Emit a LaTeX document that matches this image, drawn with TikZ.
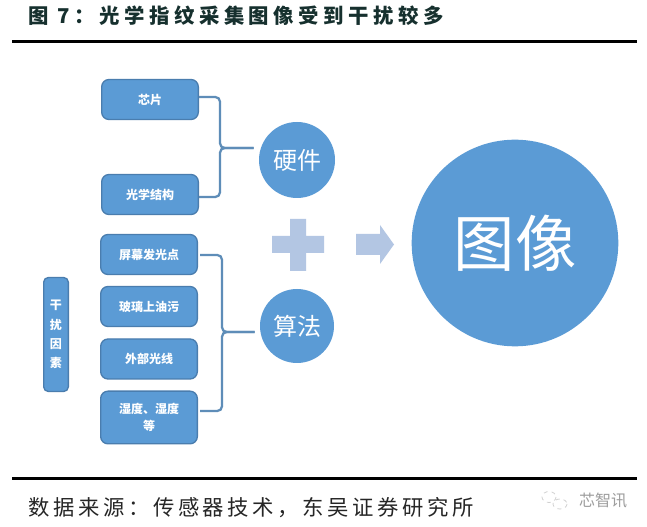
\documentclass[tikz,border=0pt]{standalone}
\usepackage{fontspec}
\setmainfont{Liberation Sans}
\newfontfamily\cjk{Noto Sans CJK SC}
\newfontfamily\cjktitle[LetterSpace=22]{Noto Sans CJK SC}
\newfontfamily\cjksrc[LetterSpace=17]{Noto Sans CJK SC}
\definecolor{boxfill}{HTML}{5B9BD5}
\definecolor{boxline}{HTML}{4A7DAE}
\definecolor{brace}{HTML}{5E8DB8}
\definecolor{pale}{HTML}{B3C6E3}
\definecolor{titlecol}{HTML}{16302E}
\tikzset{
  itembox/.style={draw=boxline,line width=1pt,fill=boxfill,rounded corners=5.5pt,minimum width=72.5pt,text=white,inner sep=0pt,align=center,font=\cjk\bfseries\fontsize{9}{13}\selectfont},
  ball/.style={circle,fill=boxfill,inner sep=0pt,text=white},
  bracketline/.style={draw=brace,line width=1.7pt,rounded corners=3.5pt,shorten >=3.75pt},
  paleshape/.style={fill=pale,draw=none},
  rulebar/.style={fill=black,draw=none}
}
\begin{document}
\begin{tikzpicture}[x=0.75pt,y=-0.75pt]
\useasboundingbox (0,0) rectangle (647,527);
\fill[white] (0,0) rectangle (647,527);
% title and rules
\node[anchor=west,inner sep=0pt,text=titlecol,font=\cjktitle\bfseries\fontsize{15.3}{17}\selectfont] (title) at (28,16) {图 7：光学指纹采集图像受到干扰较多};
\node[rulebar,anchor=north west,minimum width=468.75pt,minimum height=2.2pt,inner sep=0pt] (toprule) at (12,39.5) {};
\node[rulebar,anchor=north west,minimum width=468.75pt,minimum height=2.2pt,inner sep=0pt] (botrule) at (12,477) {};
\node[anchor=west,inner sep=0pt,text=black!85,font=\cjksrc\fontsize{16}{18}\selectfont] (source) at (28,508) {数据来源：传感器技术，东吴证券研究所};
% item boxes
\node[itembox,minimum height=30pt] (chip) at (150,99.5) {芯片};
\node[itembox,minimum height=30pt] (optic) at (150,194.5) {光学结构};
\node[itembox,minimum height=30pt] (screen) at (149,254.5) {屏幕发光点};
\node[itembox,minimum height=30pt] (glass) at (149,306.5) {玻璃上油污};
\node[itembox,minimum height=30pt] (light) at (149,359) {外部光线};
\node[itembox,minimum height=39.5pt] (humid) at (149,417.5) {湿度、湿度\\等};
\node[itembox,minimum width=18.5pt,minimum height=85.5pt,rounded corners=3.5pt,font=\cjk\bfseries\fontsize{9}{14.5}\selectfont] (factor) at (56,334.5) {干\\扰\\因\\素};
% circles
\node[ball,minimum size=57pt,font=\cjk\fontsize{18}{21}\selectfont] (hw) at (297,160) {硬件};
\node[ball,minimum size=55.5pt,font=\cjk\fontsize{18}{21}\selectfont] (algo) at (297,326) {算法};
\node[ball,minimum size=155pt,font=\cjk\fontsize{46}{50}\selectfont] (img) at (515,243) {图像};
% brackets
\coordinate (hwt) at (220,148);
\coordinate (algt) at (222,332);
\draw[bracketline] (chip.east |- 0,97) -- (220,97) -- (hwt) -- (hw.west |- hwt);
\draw[bracketline] (optic.east |- 0,197) -- (220,197) -- (hwt) -- (hw.west |- hwt);
\draw[bracketline] (200,255) -- (222,255) -- (algt) -- (algo.west |- algt);
\draw[bracketline] (200,411) -- (222,411) -- (algt) -- (algo.west |- algt);
% plus
\path[paleshape] (290,219) -- (306,219) -- (306,236) -- (324,236) -- (324,253) -- (306,253) -- (306,271) -- (290,271) -- (290,253) -- (272,253) -- (272,236) -- (290,236) -- cycle;
% arrow
\path[paleshape] (356,234) -- (380,234) -- (380,225) -- (394,244.5) -- (380,264) -- (380,255) -- (356,255) -- cycle;
% watermark
\draw[black!18,line width=0.6pt,dashed] (549,497) ellipse (7 and 5.5);
\draw[black!18,line width=0.6pt,dashed] (560,504) ellipse (7 and 5);
\node[anchor=center,inner sep=0pt,text=black!38,font=\cjk\fontsize{12}{14}\selectfont] (mark) at (603,501) {芯智讯};
\end{tikzpicture}
\end{document}
